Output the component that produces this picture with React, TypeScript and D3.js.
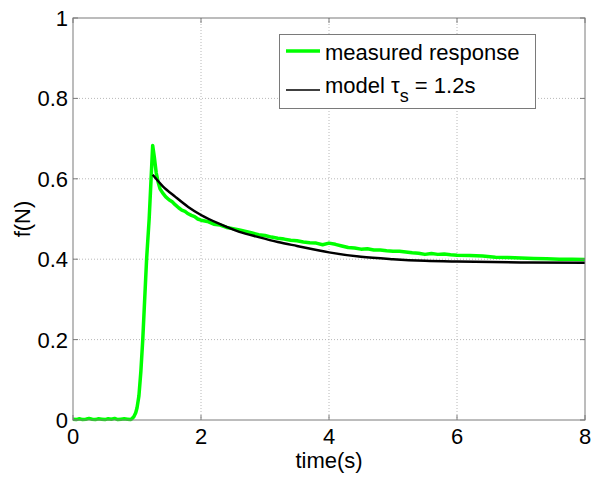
import React from "react";
import * as d3 from "d3";

const xTicks = [0, 2, 4, 6, 8];
const yTicks = [0, 0.2, 0.4, 0.6, 0.8, 1];
const yTickLabels = ["0", "0.2", "0.4", "0.6", "0.8", "1"];

const measuredT = [
  0, 0.05, 0.1, 0.15, 0.2, 0.25, 0.3, 0.35, 0.4, 0.45, 0.5, 0.55, 0.6, 0.65, 0.7, 0.75, 0.8, 0.85, 0.9,
  0.92, 0.95, 0.98, 1.0, 1.03, 1.06, 1.09, 1.12, 1.15, 1.19, 1.22, 1.245, 1.27, 1.3, 1.33, 1.36, 1.4,
  1.45, 1.5, 1.55, 1.6, 1.65, 1.7, 1.75, 1.8, 1.85, 1.9, 1.95, 2.0, 2.1, 2.2, 2.3, 2.4, 2.5, 2.6, 2.7,
  2.8, 2.9, 3.0, 3.1, 3.2, 3.3, 3.4, 3.5, 3.6, 3.7, 3.8, 3.9, 4.0, 4.1, 4.2, 4.3, 4.4, 4.5, 4.6, 4.7,
  4.8, 4.9, 5.0, 5.1, 5.2, 5.3, 5.4, 5.5, 5.6, 5.7, 5.8, 5.9, 6.0, 6.2, 6.4, 6.6, 6.8, 7.0, 7.2, 7.4,
  7.6, 7.8, 8.0,
];
const measuredF = [
  0.002, 0.001, 0.003, 0.001, 0.002, 0.004, 0.002, 0.001, 0.003, 0.002, 0.001, 0.003, 0.002, 0.004, 0.001, 0.002, 0.003, 0.002, 0.001,
  0.003, 0.008, 0.018, 0.03, 0.06, 0.12, 0.2, 0.3, 0.4, 0.5, 0.6, 0.683, 0.655, 0.615, 0.592, 0.575, 0.565,
  0.555, 0.548, 0.543, 0.535, 0.528, 0.522, 0.519, 0.513, 0.509, 0.506, 0.5, 0.497, 0.494, 0.487, 0.485, 0.479, 0.476, 0.473, 0.469,
  0.465, 0.461, 0.459, 0.455, 0.452, 0.45, 0.447, 0.446, 0.443, 0.441, 0.44, 0.436, 0.44, 0.437, 0.433, 0.429, 0.428, 0.425, 0.426, 0.423,
  0.423, 0.421, 0.42, 0.42, 0.418, 0.416, 0.415, 0.412, 0.414, 0.412, 0.413, 0.411, 0.41, 0.409, 0.408, 0.405, 0.404, 0.403, 0.402, 0.401,
  0.4, 0.4, 0.399,
];

const modelT = [1.245, 1.4, 1.6, 1.8, 2.0, 2.3, 2.6, 2.9, 3.2, 3.5, 4.0, 4.5, 5.0, 5.5, 6.0, 7.0, 8.0];
const modelF = [0.61, 0.582, 0.555, 0.53, 0.51, 0.487, 0.468, 0.455, 0.443, 0.433, 0.417, 0.406, 0.4, 0.396, 0.394, 0.392, 0.391];

const FONT = "'Liberation Sans', Arial, sans-serif";

export default function App() {
  const W = 600, H = 481;
  const L = 73, R = 585, T = 18, B = 420;
  const x = d3.scaleLinear().domain([0, 8]).range([L, R]);
  const y = d3.scaleLinear().domain([0, 1]).range([B, T]);

  const line = d3.line<[number, number]>().x((d) => x(d[0])).y((d) => y(d[1]));
  const smooth = d3
    .line<[number, number]>()
    .x((d) => x(d[0]))
    .y((d) => y(d[1]))
    .curve(d3.curveMonotoneX);

  const measured = measuredT.map((t, i) => [t, measuredF[i]] as [number, number]);
  const model = modelT.map((t, i) => [t, modelF[i]] as [number, number]);

  const gridColor = "#b8b8b8";
  const axisColor = "#7a7a7a";

  return (
    <svg width={W} height={H} style={{ position: "absolute", left: 0, top: 0, background: "#fff" }}>
      <rect x={0} y={0} width={W} height={H} fill="#fff" />
      {xTicks.slice(1, -1).map((t) => (
        <line key={"gx" + t} x1={x(t)} x2={x(t)} y1={T} y2={B} stroke={gridColor} strokeWidth={1} strokeDasharray="1,2" />
      ))}
      {yTicks.slice(1, -1).map((t) => (
        <line key={"gy" + t} x1={L} x2={R} y1={y(t)} y2={y(t)} stroke={gridColor} strokeWidth={1} strokeDasharray="1,2" />
      ))}
      <path d={line(measured) || ""} fill="none" stroke="#00ff00" strokeWidth={3.5} strokeLinejoin="round" />
      <path d={smooth(model) || ""} fill="none" stroke="#000" strokeWidth={2.5} />
      <rect x={L} y={T} width={R - L} height={B - T} fill="none" stroke={axisColor} strokeWidth={1} />
      {xTicks.map((t) => (
        <g key={"tx" + t}>
          <line x1={x(t)} x2={x(t)} y1={B} y2={B - 5} stroke={axisColor} />
          <line x1={x(t)} x2={x(t)} y1={T} y2={T + 5} stroke={axisColor} />
          <text x={x(t)} y={444} textAnchor="middle" fontFamily={FONT} fontSize={22} fill="#000">
            {t}
          </text>
        </g>
      ))}
      {yTicks.map((t, i) => (
        <g key={"ty" + t}>
          <line x1={L} x2={L + 5} y1={y(t)} y2={y(t)} stroke={axisColor} />
          <line x1={R} x2={R - 5} y1={y(t)} y2={y(t)} stroke={axisColor} />
          <text x={68} y={y(t) + 8} textAnchor="end" fontFamily={FONT} fontSize={22} fill="#000">
            {yTickLabels[i]}
          </text>
        </g>
      ))}
      <text x={(L + R) / 2} y={468} textAnchor="middle" fontFamily={FONT} fontSize={22} fill="#000">
        time(s)
      </text>
      <text
        transform={`translate(30, ${(T + B) / 2}) rotate(-90)`}
        textAnchor="middle"
        fontFamily={FONT}
        fontSize={22}
        fill="#000"
      >
        f(N)
      </text>
      <rect x={279.5} y={34.5} width={256} height={74} fill="#fff" stroke={axisColor} strokeWidth={1} />
      <line x1={286} x2={320} y1={51} y2={51} stroke="#00ff00" strokeWidth={3.5} />
      <text x={325} y={60} fontFamily={FONT} fontSize={22} fill="#000">
        measured response
      </text>
      <line x1={286} x2={320} y1={90} y2={90} stroke="#000" strokeWidth={1.5} />
      <text x={325} y={93} fontFamily={FONT} fontSize={22} fill="#000">
        model τ
        <tspan fontSize={18} dy={9}>s</tspan>
        <tspan dy={-9}> = 1.2s</tspan>
      </text>
    </svg>
  );
}
